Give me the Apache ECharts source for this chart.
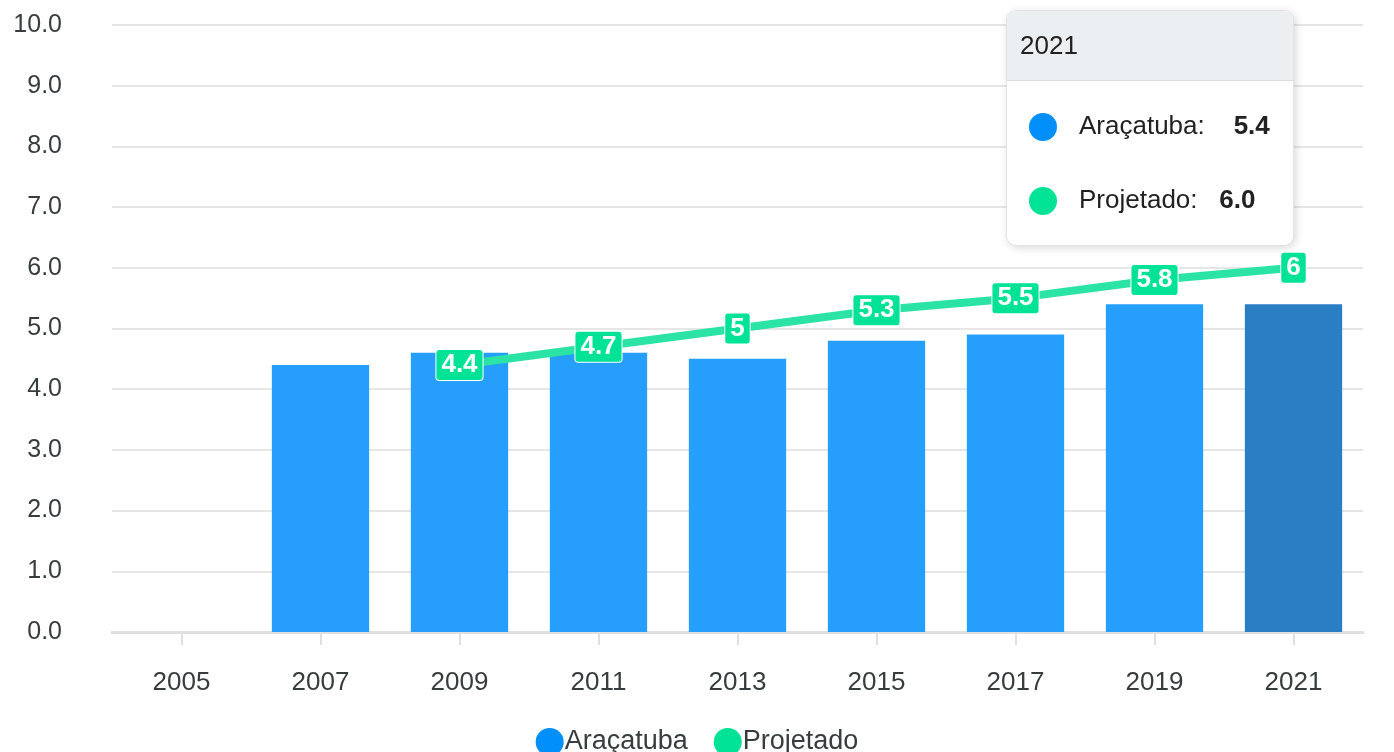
<!DOCTYPE html>
<html>
<head>
<meta charset="utf-8">
<script src="https://cdn.jsdelivr.net/npm/echarts@6/dist/echarts.min.js"></script>
<style>
    html, body { margin: 0; padding: 0; background: #fff; }
    #chart { width: 1394px; height: 752px; }
</style>
</head>
<body>
<div id="chart"></div>
<script>
// dados
var anos = ['2005', '2007', '2009', '2011', '2013', '2015', '2017', '2019', '2021'];
var aracatuba = [null, 4.4, 4.6, 4.6, 4.5, 4.8, 4.9, 5.4, 5.4];
var projetado = [null, null, 4.4, 4.7, 5, 5.3, 5.5, 5.8, 6];
var destaque = 8; // 2021 aparece destacado

var myChart = echarts.init(document.getElementById('chart'));

var barData = aracatuba.map(function (v, i) {
    if (i === destaque) {
        return { value: v, itemStyle: { color: '#2a7ec4' } };
    }
    return v;
});

var option = {
    animation: false,
    textStyle: { fontFamily: 'Liberation Sans, Arial, sans-serif' },
    grid: { left: 112, right: 31, top: 25, bottom: 120 },
    legend: {
        top: 723,
        left: 'center',
        icon: 'circle',
        itemWidth: 28,
        itemHeight: 28,
        itemGap: 26,
        textStyle: { fontSize: 27, color: '#373d3f', padding: [0, 0, 0, -4] },
        data: [
            { name: 'Araçatuba', itemStyle: { color: '#008ffb' } },
            { name: 'Projetado', itemStyle: { color: '#00e396' } }
        ]
    },
    tooltip: {
        trigger: 'item',
        triggerOn: 'none',
        alwaysShowContent: true,
        padding: 0,
        borderWidth: 1,
        borderColor: '#e3e3e3',
        backgroundColor: '#fff',
        extraCssText: 'border-radius:10px;box-shadow:2px 2px 8px rgba(0,0,0,0.15);overflow:hidden;',
        position: function () { return [1006, 10]; },
        formatter: function (p) {
            var i = p.dataIndex;
            var dot = function (c) {
                return '<span style="display:inline-block;width:28px;height:28px;border-radius:14px;background:' + c + ';vertical-align:middle;margin-right:22px"></span>';
            };
            return '<div style="width:286px;font-family:Liberation Sans,Arial,sans-serif;font-size:26px;color:#222">' +
                '<div style="background:#eceff1;border-bottom:1px solid #ddd;height:69px;line-height:69px;padding-left:13px">' + anos[i] + '</div>' +
                '<div style="padding:14px 0 16px 22px">' +
                '<div style="height:74px;line-height:60px">' + dot('#008ffb') + 'Araçatuba:&nbsp;&nbsp;&nbsp; <b>' + aracatuba[i].toFixed(1) + '</b></div>' +
                '<div style="height:60px;line-height:60px">' + dot('#00e396') + 'Projetado:&nbsp;&nbsp; <b>' + projetado[i].toFixed(1) + '</b></div>' +
                '</div></div>';
        }
    },
    xAxis: {
        type: 'category',
        data: anos,
        axisLine: { lineStyle: { color: '#e0e0e0', width: 3 } },
        axisTick: { show: true, alignWithLabel: true, length: 13, lineStyle: { color: '#e0e0e0', width: 2 } },
        axisLabel: { fontSize: 26, color: '#373d3f', margin: 38 }
    },
    yAxis: {
        type: 'value',
        min: 0,
        max: 10,
        interval: 1,
        axisLabel: {
            fontSize: 25,
            color: '#373d3f',
            margin: 50,
            formatter: function (v) { return v.toFixed(1); }
        },
        splitLine: { lineStyle: { color: '#e6e6e6', width: 2 } }
    },
    series: [
        {
            name: 'Araçatuba',
            type: 'bar',
            barWidth: '70%',
            itemStyle: { color: '#269ffc' },
            data: barData
        },
        {
            name: 'Projetado',
            type: 'line',
            symbol: 'circle',
            symbolSize: 4,
            itemStyle: { color: '#2ae3a4' },
            lineStyle: { color: '#2ae3a4', width: 8 },
            label: {
                show: true,
                position: 'inside',
                fontSize: 26,
                fontWeight: 'bold',
                color: '#fff',
                backgroundColor: '#00e396',
                borderColor: '#fff',
                borderWidth: 1,
                borderRadius: 3,
                padding: [3, 5, 1, 5]
            },
            data: projetado
        }
    ]
};

myChart.setOption(option);
myChart.dispatchAction({ type: 'showTip', seriesIndex: 0, dataIndex: destaque });
</script>
</body>
</html>
